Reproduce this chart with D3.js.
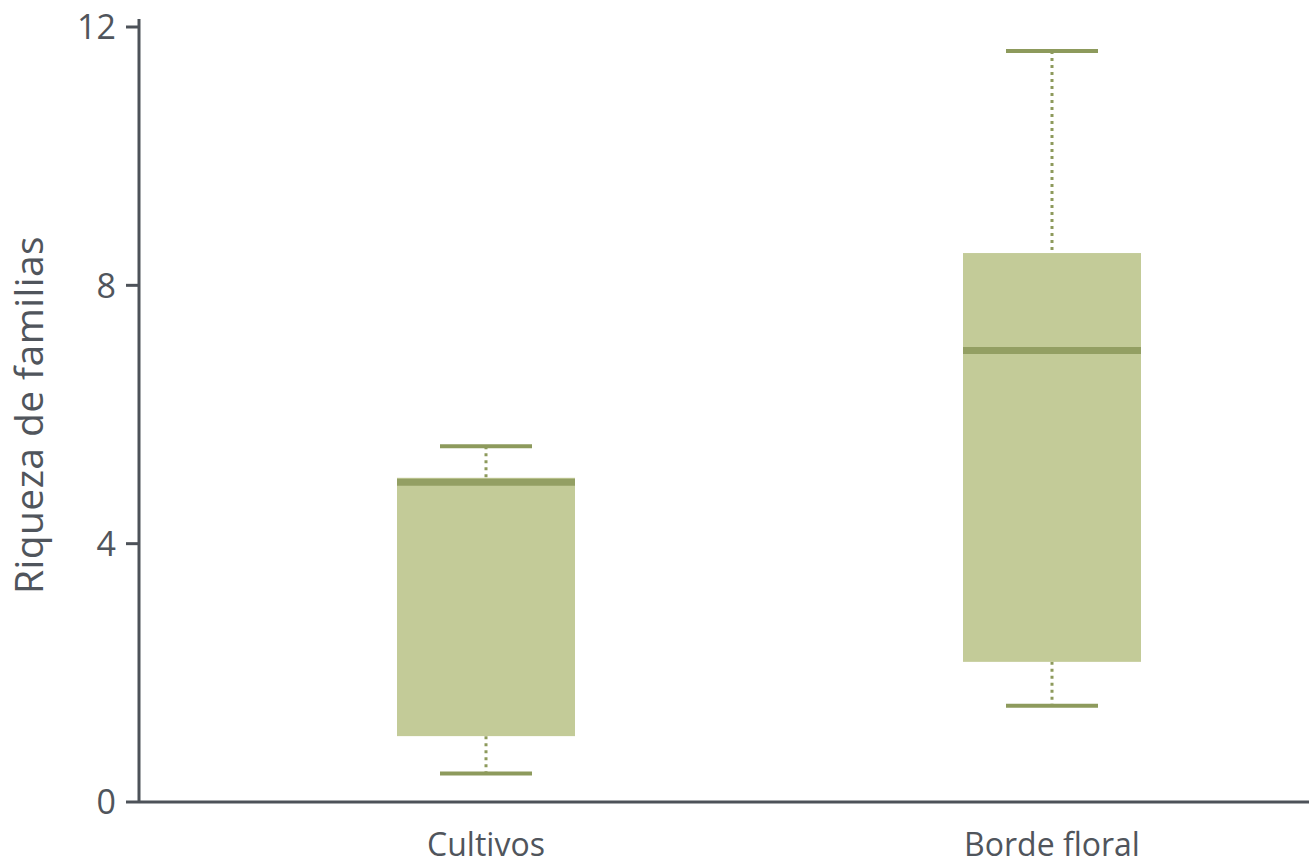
<!DOCTYPE html>
<html>
<head>
<meta charset="utf-8">
<script src="https://cdn.jsdelivr.net/npm/d3@7"></script>
<style>
  body { margin: 0; background: #fff; }
  text { font-family: "Open Sans", "Noto Sans", sans-serif; fill: #50555c; }
</style>
</head>
<body>
<svg id="chart" width="1309" height="865"></svg>
<script>
// data
const categories = ['Cultivos', 'Borde floral'];
const whiskerLow = [0.44, 1.49];
const q1 = [1.02, 2.17];
const median = [4.95, 6.99];
const q3 = [5.02, 8.5];
const whiskerHigh = [5.51, 11.63];
const yTicks = [0, 4, 8, 12];

const boxes = categories.map((c, i) => ({
  cat: c, lo: whiskerLow[i], q1: q1[i], med: median[i], q3: q3[i], hi: whiskerHigh[i]
}));

const svg = d3.select('#chart');
const axisColor = '#4d5259';
const fillColor = '#c3cb98';
const medColor = '#939f63';
const whiskColor = '#8d9a5c';

const y = d3.scaleLinear().domain([0, 12]).range([802, 27]);
const x = d3.scaleBand().domain(categories).range([203, 1335]);
const boxW = 178, capW = 92;

// y axis
svg.append('line')
  .attr('x1', 139).attr('x2', 139)
  .attr('y1', 19).attr('y2', 802)
  .attr('stroke', axisColor).attr('stroke-width', 3);
// x axis
svg.append('line')
  .attr('x1', 139).attr('x2', 1309)
  .attr('y1', 802).attr('y2', 802)
  .attr('stroke', axisColor).attr('stroke-width', 3);

const ticks = svg.selectAll('.tick').data(yTicks).join('g')
  .attr('class', 'tick')
  .attr('transform', d => `translate(0,${y(d)})`);
ticks.append('line')
  .attr('x1', 126).attr('x2', 139)
  .attr('stroke', axisColor).attr('stroke-width', 3);
ticks.append('text')
  .attr('x', 116).attr('dy', '0.36em')
  .attr('text-anchor', 'end')
  .attr('font-size', 34)
  .text(d => d);

svg.append('text')
  .attr('transform', `translate(43,415) rotate(-90)`)
  .attr('text-anchor', 'middle')
  .attr('font-size', 39)
  .attr('letter-spacing', 0.4)
  .text('Riqueza de familias');

svg.selectAll('.xlab').data(categories).join('text')
  .attr('class', 'xlab')
  .attr('x', d => x(d) + x.bandwidth() / 2)
  .attr('y', 856)
  .attr('text-anchor', 'middle')
  .attr('font-size', 32)
  .text(d => d);

const g = svg.selectAll('.box').data(boxes).join('g')
  .attr('class', 'box')
  .attr('transform', d => `translate(${x(d.cat) + x.bandwidth() / 2},0)`);

// whiskers
g.append('line')
  .attr('x1', 0).attr('x2', 0)
  .attr('y1', d => y(d.hi)).attr('y2', d => y(d.q3))
  .attr('stroke', whiskColor).attr('stroke-width', 3)
  .attr('stroke-dasharray', '3,4');
g.append('line')
  .attr('x1', 0).attr('x2', 0)
  .attr('y1', d => y(d.q1)).attr('y2', d => y(d.lo))
  .attr('stroke', whiskColor).attr('stroke-width', 3)
  .attr('stroke-dasharray', '3,4');

// caps
g.append('line')
  .attr('x1', -capW / 2).attr('x2', capW / 2)
  .attr('y1', d => y(d.hi)).attr('y2', d => y(d.hi))
  .attr('stroke', whiskColor).attr('stroke-width', 4);
g.append('line')
  .attr('x1', -capW / 2).attr('x2', capW / 2)
  .attr('y1', d => y(d.lo)).attr('y2', d => y(d.lo))
  .attr('stroke', whiskColor).attr('stroke-width', 4);

// box
g.append('rect')
  .attr('x', -boxW / 2).attr('width', boxW)
  .attr('y', d => y(d.q3))
  .attr('height', d => y(d.q1) - y(d.q3))
  .attr('fill', fillColor);

// median
g.append('line')
  .attr('x1', -boxW / 2).attr('x2', boxW / 2)
  .attr('y1', d => y(d.med)).attr('y2', d => y(d.med))
  .attr('stroke', medColor).attr('stroke-width', 7);
</script>
</body>
</html>
